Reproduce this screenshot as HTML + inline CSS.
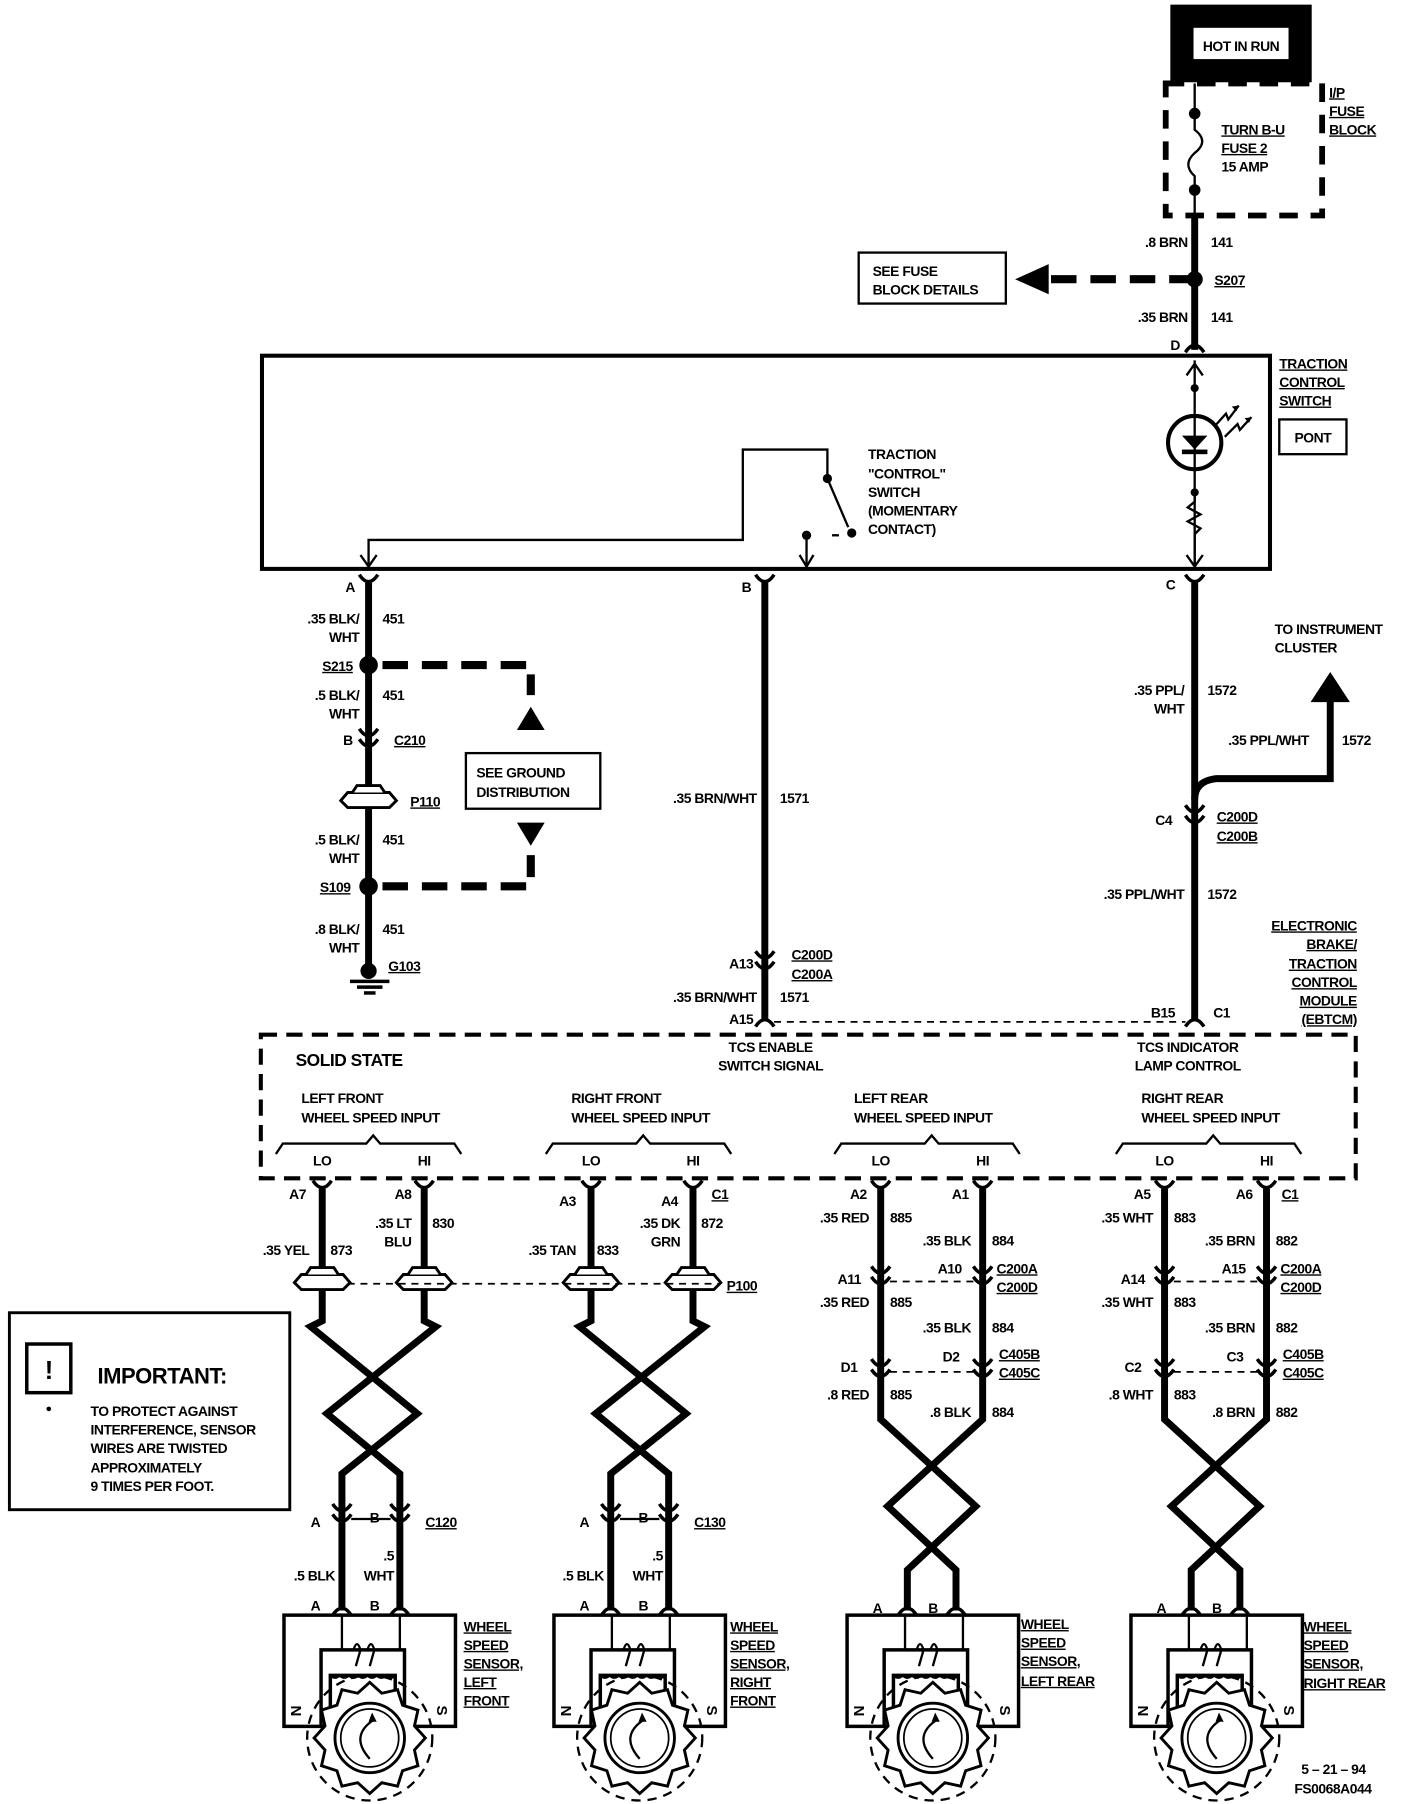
<!DOCTYPE html>
<html><head><meta charset="utf-8"><style>
html,body{margin:0;padding:0;background:#fff}
svg{display:block}
text{font-family:"Liberation Sans",sans-serif;font-weight:bold;font-size:12px;fill:#000;letter-spacing:-0.4px}
.u{text-decoration:underline}
.w{stroke:#000;stroke-width:6;fill:none}
.t{stroke:#000;stroke-width:2;fill:none}
.m{stroke:#000;stroke-width:3;fill:none}
.d{stroke:#000;stroke-width:7;fill:none;stroke-dasharray:22 12}
.dt{stroke:#000;stroke-width:1.5;fill:none;stroke-dasharray:6 5}
</style></head><body>
<svg width="1408" height="1804" viewBox="0 0 1215 1557" xmlns="http://www.w3.org/2000/svg">
<defs>
<g id="cn"><path d="M-8,-7 Q0,5 8,-7" class="m"/><path d="M-8,2 Q0,14 8,2" class="m"/></g>
<g id="c1"><path d="M-8,-6 Q0,6 8,-6" class="m"/></g>
<g id="cu"><path d="M-8,6 Q0,-6 8,6" class="m"/></g>
<g id="pt"><path d="M-24,3 L-18,-4 L18,-4 L24,3 L18,9 L-18,9 Z" fill="#fff" stroke="#000" stroke-width="2.5"/><path d="M-14,-4 L-10,-10 L10,-10 L14,-4" fill="#fff" stroke="#000" stroke-width="2.5"/></g>
<g id="sensor">
<rect x="-74" y="0" width="148" height="96" fill="#fff" stroke="#000" stroke-width="3"/>
<line x1="-24" y1="0" x2="-24" y2="30" class="t"/><line x1="26" y1="0" x2="26" y2="30" class="t"/>
<path d="M-42,96 L-42,30 L30,30 L30,96" class="m"/>
<path d="M-34,96 L-34,52 L22,52 L22,96" class="m"/>
<path d="M-14,30 q3,-10 6,0 M-2,30 q3,-10 6,0 M-12,44 L-8,30 M0,44 L4,30" class="t"/>
<path d="M-34,52 q4,4 8,0 q4,4 8,0 q4,4 8,0 q4,4 8,0 q4,4 8,0 q4,4 8,0 q4,4 8,0" class="t"/>
<circle cx="0" cy="106" r="54" fill="none" stroke="#000" stroke-width="2" stroke-dasharray="8 6"/>
<polygon transform="translate(0,106)" points="48,0 38.6,10.4 41.6,24 28.3,28.3 24,41.6 10.4,38.6 0,48 -10.4,38.6 -24,41.6 -28.3,28.3 -41.6,24 -38.6,10.4 -48,0 -38.6,-10.4 -41.6,-24 -28.3,-28.3 -24,-41.6 -10.4,-38.6 0,-48 10.4,-38.6 24,-41.6 28.3,-28.3 41.6,-24 38.6,-10.4" fill="#fff" stroke="#000" stroke-width="2.5"/>
<circle cx="0" cy="106" r="30" fill="none" stroke="#000" stroke-width="2.5"/>
<circle cx="0" cy="106" r="25" fill="none" stroke="#000" stroke-width="1.5"/>
<path d="M4,90 Q-18,104 0,124" class="t"/><path d="M2,84 L6,92 L-1,92 Z" fill="#000"/>
<text x="-68" y="78" transform="rotate(90 -68 78)" style="font-size:13px">N</text>
<text x="58" y="78" transform="rotate(90 58 78)" style="font-size:13px">S</text>
</g>
</defs>

<rect x="1020" y="14" width="102" height="47" fill="none" stroke="#000" stroke-width="20"/>
<text x="1071" y="44" text-anchor="middle">HOT IN RUN</text>
<rect x="1006" y="72" width="135" height="114" fill="none" stroke="#000" stroke-width="5" stroke-dasharray="16 11"/>
<line x1="1031" y1="72" x2="1031" y2="97" class="t"/>
<circle cx="1031" cy="98" r="5"/>
<path d="M1031,98 L1031,112 Q1044,122 1031,132 Q1020,142 1031,152 L1031,164" class="t"/>
<circle cx="1031" cy="164" r="5"/>
<line x1="1031" y1="164" x2="1031" y2="186" class="t"/>
<text x="1054" y="116" class="u">TURN B-U</text>
<text x="1054" y="132" class="u">FUSE 2</text>
<text x="1054" y="148">15 AMP</text>
<text x="1147" y="84" class="u">I/P</text>
<text x="1147" y="100" class="u">FUSE</text>
<text x="1147" y="116" class="u">BLOCK</text>

<line x1="1031" y1="186" x2="1031" y2="302" class="w"/>
<text x="1025" y="213" text-anchor="end">.8 BRN</text><text x="1045" y="213">141</text>
<circle cx="1031" cy="241" r="7"/>
<text x="1048" y="246" class="u">S207</text>
<line x1="1031" y1="241" x2="905" y2="241" class="d"/>
<path d="M905,228 L905,254 L876,241 Z" fill="#000"/>
<rect x="741" y="218" width="127" height="44" fill="#fff" stroke="#000" stroke-width="2"/>
<text x="753" y="238">SEE FUSE</text><text x="753" y="254">BLOCK DETAILS</text>
<text x="1025" y="278" text-anchor="end">.35 BRN</text><text x="1045" y="278">141</text>
<use href="#cu" x="1031" y="298"/>
<text x="1010" y="302">D</text>

<rect x="226" y="307" width="870" height="184" fill="none" stroke="#000" stroke-width="3.5"/>
<line x1="1031" y1="311" x2="1031" y2="487" class="t"/>
<path d="M1024,324 L1031,314 L1038,324" class="t"/>
<circle cx="1031" cy="335" r="3.5"/>
<circle cx="1031" cy="382" r="23" fill="#fff" stroke="#000" stroke-width="3.5"/>
<line x1="1031" y1="359" x2="1031" y2="405" class="t"/>
<path d="M1020,376 L1042,376 L1031,388 Z" fill="#000"/><rect x="1020" y="388" width="22" height="4"/>
<path d="M1049,367 L1058,357 L1060,362 L1069,350" class="t"/><path d="M1069,350 l-6,1 l4,4z" fill="#000"/>
<path d="M1057,377 L1068,366 L1070,371 L1080,360" class="t"/><path d="M1080,360 l-6,1 l4,4z" fill="#000"/>
<circle cx="1031" cy="425" r="3.5"/>
<path d="M1031,425 L1031,433 L1025,438 L1036,444 L1025,450 L1036,456 L1031,461 L1031,488" class="t"/>
<path d="M1024,479 L1031,489 L1038,479" class="t"/>
<text x="1104" y="318" class="u">TRACTION</text>
<text x="1104" y="334" class="u">CONTROL</text>
<text x="1104" y="350" class="u">SWITCH</text>
<rect x="1104" y="362" width="58" height="30" fill="none" stroke="#000" stroke-width="2"/>
<text x="1133" y="382" text-anchor="middle">PONT</text>

<path d="M318,489 L318,466 L641,466 L641,388 L714,388 L714,413" class="t"/>
<circle cx="714" cy="413" r="4"/>
<line x1="714" y1="413" x2="732" y2="455" class="t"/>
<circle cx="735" cy="460" r="4"/>
<line x1="718" y1="462" x2="724" y2="462" class="t"/>
<circle cx="696" cy="462" r="4"/>
<line x1="696" y1="462" x2="696" y2="489" class="t"/>
<path d="M690,479 L696,489 L702,479" class="t"/>
<path d="M311,479 L318,489 L325,479" class="t"/>
<text x="749" y="396">TRACTION</text>
<text x="749" y="413">"CONTROL"</text>
<text x="749" y="429">SWITCH</text>
<text x="749" y="445">(MOMENTARY</text>
<text x="749" y="461">CONTACT)</text>

<use href="#c1" x="318" y="502"/><text x="298" y="511">A</text>
<line x1="318" y1="503" x2="318" y2="832" class="w"/>
<text x="310" y="538" text-anchor="end">.35 BLK/</text><text x="310" y="554" text-anchor="end">WHT</text><text x="330" y="538">451</text>
<circle cx="318" cy="574" r="8"/>
<text x="278" y="579" class="u">S215</text>
<path d="M330,574 L458,574 L458,600" class="d"/>
<path d="M446,630 L470,630 L458,610 Z" fill="#000"/>
<text x="310" y="604" text-anchor="end">.5 BLK/</text><text x="310" y="620" text-anchor="end">WHT</text><text x="330" y="604">451</text>
<use href="#cn" x="318" y="636"/><text x="296" y="643">B</text><text x="340" y="643" class="u">C210</text>
<use href="#pt" x="318" y="688"/><text x="354" y="696" class="u">P110</text>
<rect x="402" y="650" width="116" height="48" fill="#fff" stroke="#000" stroke-width="2"/>
<text x="411" y="671">SEE GROUND</text><text x="411" y="688">DISTRIBUTION</text>
<text x="310" y="729" text-anchor="end">.5 BLK/</text><text x="310" y="745" text-anchor="end">WHT</text><text x="330" y="729">451</text>
<circle cx="318" cy="765" r="8"/>
<text x="276" y="770" class="u">S109</text>
<path d="M330,765 L458,765 L458,738" class="d"/>
<path d="M446,710 L470,710 L458,730 Z" fill="#000"/>
<text x="310" y="806" text-anchor="end">.8 BLK/</text><text x="310" y="822" text-anchor="end">WHT</text><text x="330" y="806">451</text>
<circle cx="318" cy="838" r="7"/>
<line x1="302" y1="847" x2="336" y2="847" class="m"/><line x1="308" y1="852" x2="330" y2="852" class="m"/><line x1="314" y1="857" x2="324" y2="857" class="m"/>
<text x="335" y="838" class="u">G103</text>

<use href="#c1" x="660" y="502"/><text x="640" y="511">B</text>
<line x1="660" y1="503" x2="660" y2="880" class="w"/>
<text x="653" y="693" text-anchor="end">.35 BRN/WHT</text><text x="673" y="693">1571</text>
<use href="#cn" x="660" y="828"/>
<text x="650" y="836" text-anchor="end">A13</text>
<text x="683" y="828" class="u">C200D</text><text x="683" y="845" class="u">C200A</text>
<text x="653" y="865" text-anchor="end">.35 BRN/WHT</text><text x="673" y="865">1571</text>
<use href="#cu" x="660" y="880"/>
<text x="650" y="884" text-anchor="end">A15</text>
<line x1="668" y1="882" x2="1023" y2="882" class="dt"/>

<use href="#c1" x="1031" y="502"/><text x="1006" y="509">C</text>
<line x1="1031" y1="503" x2="1031" y2="880" class="w"/>
<path d="M1031,690 Q1031,674 1050,672 L1148,672 L1148,604" class="w"/>
<path d="M1131,606 L1165,606 L1148,580 Z" fill="#000"/>
<text x="1100" y="547">TO INSTRUMENT</text><text x="1100" y="563">CLUSTER</text>
<text x="1022" y="600" text-anchor="end">.35 PPL/</text><text x="1022" y="616" text-anchor="end">WHT</text><text x="1042" y="600">1572</text>
<text x="1060" y="643">.35 PPL/WHT</text><text x="1158" y="643">1572</text>
<use href="#cn" x="1031" y="702"/>
<text x="997" y="712">C4</text>
<text x="1050" y="709" class="u">C200D</text><text x="1050" y="726" class="u">C200B</text>
<text x="1022" y="776" text-anchor="end">.35 PPL/WHT</text><text x="1042" y="776">1572</text>
<use href="#cu" x="1031" y="880"/>
<text x="1014" y="878" text-anchor="end">B15</text><text x="1047" y="878">C1</text>
<text x="1171" y="803" text-anchor="end" class="u">ELECTRONIC</text>
<text x="1171" y="819" text-anchor="end" class="u">BRAKE/</text>
<text x="1171" y="836" text-anchor="end" class="u">TRACTION</text>
<text x="1171" y="852" text-anchor="end" class="u">CONTROL</text>
<text x="1171" y="868" text-anchor="end" class="u">MODULE</text>
<text x="1171" y="884" text-anchor="end" class="u">(EBTCM)</text>

<rect x="225" y="893" width="945" height="124" fill="none" stroke="#000" stroke-width="3.5" stroke-dasharray="14 8"/>
<text x="255" y="920" style="font-size:15px">SOLID STATE</text>
<text x="665" y="908" text-anchor="middle">TCS ENABLE</text><text x="665" y="924" text-anchor="middle">SWITCH SIGNAL</text>
<text x="1025" y="908" text-anchor="middle">TCS INDICATOR</text><text x="1025" y="924" text-anchor="middle">LAMP CONTROL</text>

<g id="grp">
<path d="M238,996 L244,987 L316,987 L322,980 L328,987 L392,987 L398,996" class="t"/>
</g>
<use href="#grp" x="233"/><use href="#grp" x="482"/><use href="#grp" x="725"/>
<text x="260" y="952">LEFT FRONT</text><text x="260" y="969">WHEEL SPEED INPUT</text>
<text x="493" y="952">RIGHT FRONT</text><text x="493" y="969">WHEEL SPEED INPUT</text>
<text x="737" y="952">LEFT REAR</text><text x="737" y="969">WHEEL SPEED INPUT</text>
<text x="985" y="952">RIGHT REAR</text><text x="985" y="969">WHEEL SPEED INPUT</text>
<text x="278" y="1006" text-anchor="middle">LO</text><text x="366" y="1006" text-anchor="middle">HI</text>
<text x="510" y="1006" text-anchor="middle">LO</text><text x="598" y="1006" text-anchor="middle">HI</text>
<text x="760" y="1006" text-anchor="middle">LO</text><text x="848" y="1006" text-anchor="middle">HI</text>
<text x="1005" y="1006" text-anchor="middle">LO</text><text x="1093" y="1006" text-anchor="middle">HI</text>

<g id="front">
<use href="#c1" x="278" y="1025"/><use href="#c1" x="366" y="1025"/>
<path d="M278,1026 L278,1140 L268,1145 L360,1220 L295,1272 L295,1390" class="w"/>
<path d="M366,1026 L366,1140 L376,1145 L282,1220 L345,1272 L345,1390" class="w"/>
<use href="#pt" x="278" y="1104"/><use href="#pt" x="366" y="1104"/>
<use href="#cn" x="295" y="1305"/><use href="#cn" x="345" y="1305"/>
<line x1="303" y1="1311" x2="337" y2="1311" class="t"/>
<use href="#cu" x="295" y="1388"/><use href="#cu" x="345" y="1388"/>
</g>
<use href="#front" x="232"/>
<line x1="300" y1="1108" x2="620" y2="1108" class="dt"/>
<text x="267" y="1083" text-anchor="end">.35 YEL</text><text x="285" y="1083">873</text>
<text x="264" y="1035" text-anchor="end">A7</text>
<text x="355" y="1035" text-anchor="end">A8</text>
<text x="355" y="1060" text-anchor="end">.35 LT</text><text x="355" y="1076" text-anchor="end">BLU</text><text x="373" y="1060">830</text>
<text x="497" y="1041" text-anchor="end">A3</text>
<text x="585" y="1041" text-anchor="end">A4</text><text x="614" y="1035" class="u">C1</text>
<text x="497" y="1083" text-anchor="end">.35 TAN</text><text x="515" y="1083">833</text>
<text x="587" y="1060" text-anchor="end">.35 DK</text><text x="587" y="1076" text-anchor="end">GRN</text><text x="605" y="1060">872</text>
<text x="627" y="1114" class="u">P100</text>
<text x="268" y="1318">A</text><text x="319" y="1314">B</text><text x="367" y="1318" class="u">C120</text>
<text x="500" y="1318">A</text><text x="551" y="1314">B</text><text x="599" y="1318" class="u">C130</text>
<text x="289" y="1364" text-anchor="end">.5 BLK</text><text x="340" y="1347" text-anchor="end">.5</text><text x="340" y="1364" text-anchor="end">WHT</text>
<text x="521" y="1364" text-anchor="end">.5 BLK</text><text x="572" y="1347" text-anchor="end">.5</text><text x="572" y="1364" text-anchor="end">WHT</text>
<text x="268" y="1390">A</text><text x="319" y="1390">B</text>
<text x="500" y="1390">A</text><text x="551" y="1390">B</text>

<g id="rear">
<use href="#c1" x="760" y="1025"/><use href="#c1" x="848" y="1025"/>
<path d="M760,1026 L760,1225 L842,1300 L783,1355 L783,1390" class="w"/>
<path d="M848,1026 L848,1225 L766,1300 L825,1355 L825,1390" class="w"/>
<use href="#cn" x="760" y="1100"/><use href="#cn" x="848" y="1100"/>
<use href="#cn" x="760" y="1180"/><use href="#cn" x="848" y="1180"/>
<use href="#cu" x="783" y="1388"/><use href="#cu" x="825" y="1388"/>
</g>
<use href="#rear" x="245"/>
<line x1="768" y1="1106" x2="840" y2="1106" class="dt"/><line x1="1013" y1="1106" x2="1085" y2="1106" class="dt"/>
<line x1="768" y1="1184" x2="840" y2="1184" class="dt"/><line x1="1013" y1="1184" x2="1085" y2="1184" class="dt"/>
<text x="748" y="1035" text-anchor="end">A2</text><text x="836" y="1035" text-anchor="end">A1</text>
<text x="750" y="1055" text-anchor="end">.35 RED</text><text x="768" y="1055">885</text>
<text x="838" y="1075" text-anchor="end">.35 BLK</text><text x="856" y="1075">884</text>
<text x="743" y="1108" text-anchor="end">A11</text><text x="830" y="1099" text-anchor="end">A10</text>
<text x="860" y="1099" class="u">C200A</text><text x="860" y="1115" class="u">C200D</text>
<text x="750" y="1128" text-anchor="end">.35 RED</text><text x="768" y="1128">885</text>
<text x="838" y="1150" text-anchor="end">.35 BLK</text><text x="856" y="1150">884</text>
<text x="740" y="1184" text-anchor="end">D1</text><text x="828" y="1175" text-anchor="end">D2</text>
<text x="862" y="1173" class="u">C405B</text><text x="862" y="1189" class="u">C405C</text>
<text x="750" y="1208" text-anchor="end">.8 RED</text><text x="768" y="1208">885</text>
<text x="838" y="1223" text-anchor="end">.8 BLK</text><text x="856" y="1223">884</text>

<text x="993" y="1035" text-anchor="end">A5</text><text x="1081" y="1035" text-anchor="end">A6</text><text x="1106" y="1035" class="u">C1</text>
<text x="995" y="1055" text-anchor="end">.35 WHT</text><text x="1013" y="1055">883</text>
<text x="1083" y="1075" text-anchor="end">.35 BRN</text><text x="1101" y="1075">882</text>
<text x="988" y="1108" text-anchor="end">A14</text><text x="1075" y="1099" text-anchor="end">A15</text>
<text x="1105" y="1099" class="u">C200A</text><text x="1105" y="1115" class="u">C200D</text>
<text x="995" y="1128" text-anchor="end">.35 WHT</text><text x="1013" y="1128">883</text>
<text x="1083" y="1150" text-anchor="end">.35 BRN</text><text x="1101" y="1150">882</text>
<text x="985" y="1184" text-anchor="end">C2</text><text x="1073" y="1175" text-anchor="end">C3</text>
<text x="1107" y="1173" class="u">C405B</text><text x="1107" y="1189" class="u">C405C</text>
<text x="995" y="1208" text-anchor="end">.8 WHT</text><text x="1013" y="1208">883</text>
<text x="1083" y="1223" text-anchor="end">.8 BRN</text><text x="1101" y="1223">882</text>
<text x="753" y="1392">A</text><text x="801" y="1392">B</text>
<text x="998" y="1392">A</text><text x="1046" y="1392">B</text>

<use href="#sensor" x="319" y="1394"/>
<use href="#sensor" x="552" y="1394"/>
<use href="#sensor" x="805" y="1394"/>
<use href="#sensor" x="1050" y="1394"/>
<text x="400" y="1408" class="u">WHEEL</text><text x="400" y="1424" class="u">SPEED</text><text x="400" y="1440" class="u">SENSOR,</text><text x="400" y="1456" class="u">LEFT</text><text x="400" y="1472" class="u">FRONT</text>
<text x="630" y="1408" class="u">WHEEL</text><text x="630" y="1424" class="u">SPEED</text><text x="630" y="1440" class="u">SENSOR,</text><text x="630" y="1456" class="u">RIGHT</text><text x="630" y="1472" class="u">FRONT</text>
<text x="881" y="1406" class="u">WHEEL</text><text x="881" y="1422" class="u">SPEED</text><text x="881" y="1438" class="u">SENSOR,</text><text x="881" y="1455" class="u">LEFT REAR</text>
<text x="1125" y="1408" class="u">WHEEL</text><text x="1125" y="1424" class="u">SPEED</text><text x="1125" y="1440" class="u">SENSOR,</text><text x="1125" y="1457" class="u">RIGHT REAR</text>

<rect x="8" y="1133" width="242" height="170" fill="none" stroke="#000" stroke-width="2.5"/>
<rect x="23" y="1160" width="38" height="42" fill="none" stroke="#000" stroke-width="3"/>
<text x="42" y="1190" text-anchor="middle" style="font-size:22px">!</text>
<circle cx="42" cy="1216" r="2"/>
<text x="84" y="1194" style="font-size:19px;font-weight:bold">IMPORTANT:</text>
<text x="78" y="1222">TO PROTECT AGAINST</text>
<text x="78" y="1238">INTERFERENCE, SENSOR</text>
<text x="78" y="1254">WIRES ARE TWISTED</text>
<text x="78" y="1271">APPROXIMATELY</text>
<text x="78" y="1287">9 TIMES PER FOOT.</text>

<text x="1123" y="1531">5 – 21 – 94</text>
<text x="1117" y="1548">FS0068A044</text>
</svg>
</body></html>
